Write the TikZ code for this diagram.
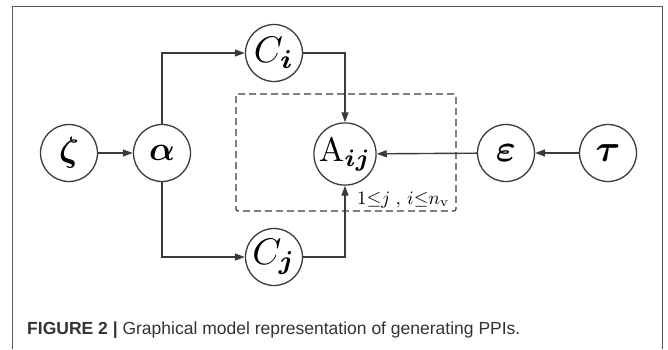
\documentclass[tikz,border=0pt]{standalone}
\usepackage{amsmath,bm,graphicx}
\usepackage{fontspec}
\newfontfamily\capfont{Liberation Sans}
\usetikzlibrary{arrows.meta}
\definecolor{ink}{HTML}{3A3A3A}
\definecolor{captext}{HTML}{333333}
\newcommand{\sym}[2]{\scalebox{#1}{$#2$}}

\begin{document}
\begin{tikzpicture}[x=1pt,y=-1pt,
  var/.style={draw=ink,line width=1.3pt,circle,minimum size=57pt,inner sep=0pt},
  arr/.style={draw=ink,line width=1.4pt,-{Triangle[length=10pt,width=7pt]}},
  plate/.style={draw=ink,line width=1.2pt,dash pattern=on 7pt off 4pt,rounded corners=2pt}]
\useasboundingbox (0,0) rectangle (668,349);
\draw[ink!85,line width=0.9pt] (12,349) -- (12,6) -- (662,6) -- (662,349);

\node[var] (zeta) at (69,153) {\sym{3.5}{\bm{\zeta}}};
\node[var] (alpha) at (162,153) {\sym{3.4}{\bm{\alpha}}};
\node[var] (Ci) at (274,53) {\sym{3.7}{C_{\bm{i}}}};
\node[var] (Cj) at (274,257) {\sym{3.7}{C_{\bm{j}}}};
\node[var] (Aij) at (345,154) {\sym{3.4}{\mathrm{A}_{\bm{ij}}}};
\node[var] (eps) at (506,153) {\sym{3.8}{\bm{\varepsilon}}};
\node[var] (tau) at (608,153) {\sym{3.8}{\bm{\tau}}};

\draw[plate] (236,94) rectangle (456,211);
\node[anchor=base west,inner sep=0pt] (range) at (357,204)
  {\sym{1.9}{1{\leq}j\;,\,i{\leq}n_{\mathrm{v}}}};

\draw[arr] (zeta) -- (alpha);
\draw[arr] (alpha) |- (Ci);
\draw[arr] (alpha) |- (Cj);
\draw[arr] (Ci) -| (Aij);
\draw[arr] (Cj) -| (Aij);
\draw[arr] (eps) -- (Aij);
\draw[arr] (tau) -- (eps);

\node[anchor=base west,inner sep=0pt,text=captext,font=\capfont\fontsize{17.5}{20}\selectfont] (caption) at (27,334)
  {\textbf{FIGURE 2 |} Graphical model representation of generating PPIs.};
\end{tikzpicture}
\end{document}
